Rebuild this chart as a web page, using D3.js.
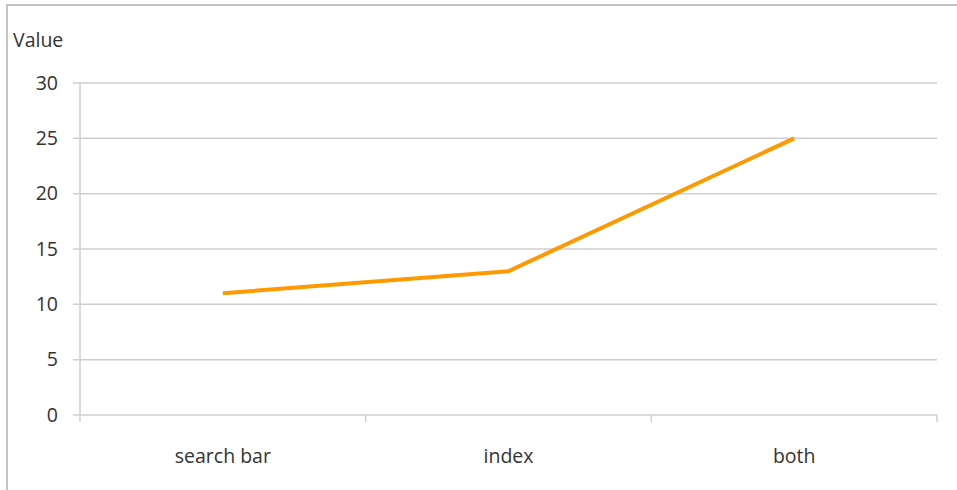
<!DOCTYPE html>
<html><head><meta charset="utf-8">
<script src="https://cdn.jsdelivr.net/npm/d3@7"></script>
<style>body{margin:0;background:#fff}svg{display:block}text{font-family:"Open Sans",sans-serif;fill:#333}</style>
</head><body><svg id="c" width="957" height="490"></svg>
<script>
const categories = ["search bar", "index", "both"];
const values = [11, 13, 25];
const yTicks = [0, 5, 10, 15, 20, 25, 30];
const yLabel = "Value";

const svg = d3.select("#c");
const W = 957, H = 490;
const x = d3.scaleBand().domain(categories).range([80, 937]);
const y = d3.scaleLinear().domain([0, 30]).range([415, 83]);
const fs = 19.5;

// outer frame (top and left)
svg.append("path").attr("d", `M7,${H}V5H${W}`).attr("fill","none").attr("stroke","#c4c4c4").attr("stroke-width",2);

// gridlines
svg.append("g").selectAll("line").data(yTicks).join("line")
  .attr("x1", 73).attr("x2", 937).attr("y1", d=>y(d)).attr("y2", d=>y(d))
  .attr("stroke", "#cfcfcf").attr("stroke-width", 1.5);

// y axis line
svg.append("line").attr("x1",80).attr("x2",80).attr("y1",y(30)).attr("y2",y(0)).attr("stroke","#cfcfcf").attr("stroke-width",1.5);

// x tick marks at band boundaries
const bounds = categories.map(c=>x(c)).concat([x.range()[1]]);
svg.append("g").selectAll("line").data(bounds).join("line")
  .attr("x1", d=>d).attr("x2", d=>d).attr("y1", y(0)).attr("y2", y(0)+7)
  .attr("stroke", "#cfcfcf").attr("stroke-width", 1.5);

// y tick labels
svg.append("g").selectAll("text").data(yTicks).join("text")
  .attr("x", 58).attr("y", d=>y(d)).attr("dy","0.35em").attr("text-anchor","end")
  .attr("font-size", fs).text(d=>d);

// x labels
svg.append("g").selectAll("text").data(categories).join("text")
  .attr("x", d=>x(d)+x.bandwidth()/2).attr("y", 463).attr("text-anchor","middle")
  .attr("font-size", fs).text(d=>d);

// y label
svg.append("text").attr("x", 13).attr("y", 47).attr("font-size", fs).text(yLabel);

// line
const line = d3.line().x((d,i)=>x(categories[i])+x.bandwidth()/2).y(d=>y(d));
svg.append("path").datum(values).attr("d", line).attr("fill","none")
  .attr("stroke","#ff9900").attr("stroke-width",4).attr("stroke-linejoin","round");
</script></body></html>
